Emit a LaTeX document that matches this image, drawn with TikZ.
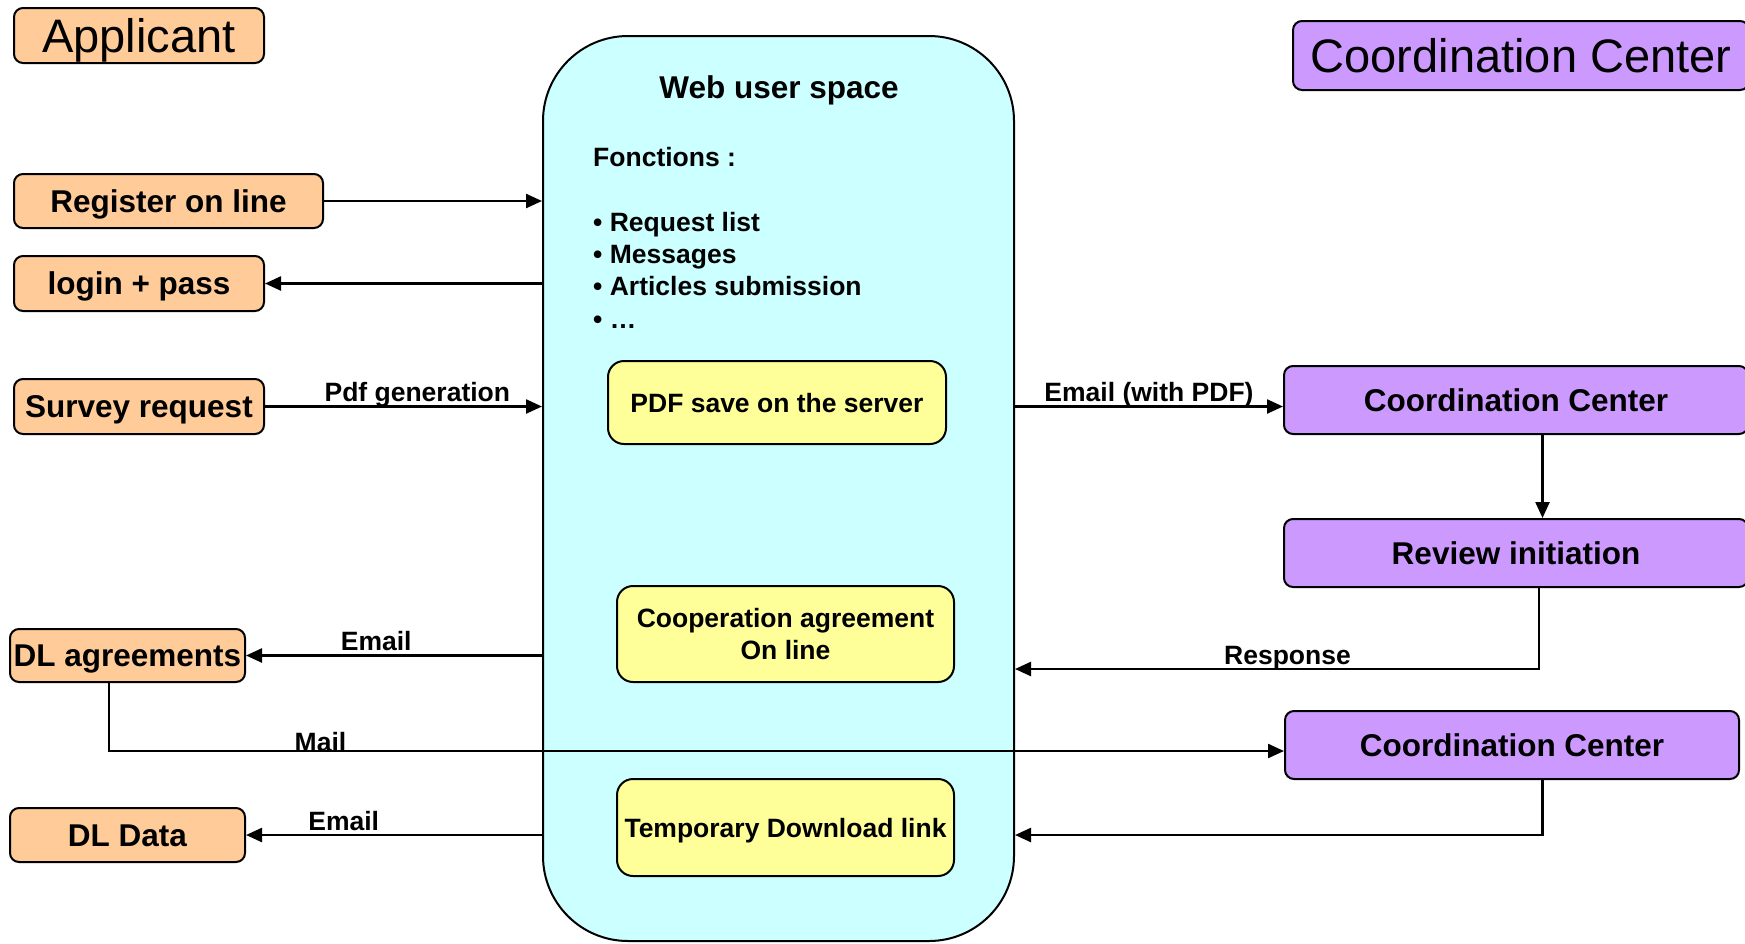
\documentclass[tikz,border=0pt]{standalone}
\usepackage{fontspec}
\setmainfont{Liberation Sans}
\usetikzlibrary{shapes,arrows.meta,positioning}
\definecolor{peach}{RGB}{255,204,153}
\definecolor{lilac}{RGB}{204,153,255}
\definecolor{cyanbg}{RGB}{204,255,255}
\definecolor{lemon}{RGB}{255,255,153}
\def\CC{Coordination Center}

\begin{document}
\begin{tikzpicture}[x=1pt,y=-1pt,% one unit = one pixel, y pointing down
		every node/.style={
			align=center,	% so that "\\" breaks lines
			inner sep=0pt
		},
		box/.style={rectangle,rounded corners=9pt,draw=black,line width=2pt,font=\fontsize{31.5}{36}\selectfont\bfseries,
			text height=22.5pt,text depth=0pt},	% centre on the capitals
		appl/.style={box,fill=peach},
		coord/.style={box,fill=lilac,minimum height=68pt},
		srvbox/.style={box,rounded corners=16pt,fill=lemon,font=\fontsize{26.5}{32}\selectfont\bfseries,text height=19pt},
		head/.style={font=\fontsize{47}{52}\selectfont,text height=33.7pt},
		lbl/.style={font=\fontsize{26.5}{32}\selectfont\bfseries,anchor=base,yshift=5pt},
		every edge/.style={draw,line width=2.4pt},
		>={Triangle[length=16pt,width=14pt]}
	]
	\useasboundingbox (0,0) rectangle (1745,943);
	% applicant side
	\node[appl,head,minimum width=250pt,minimum height=55pt](App) at (139,35.5){Applicant};
	\node[appl,minimum width=309pt,minimum height=54pt](Reg) at (168.5,201){Register on line};
	\node[appl,minimum width=250pt,minimum height=55pt](Log) at (139,283.5){login + pass};
	\node[appl,minimum width=250pt,minimum height=55pt](Sur) at (139,406.5){Survey request};
	\node[appl,minimum width=235pt,minimum height=53pt](DLa) at (127.5,655.5){DL agreements};
	\node[appl,minimum width=235pt,minimum height=54pt](DLd) at (127.5,835){DL Data};
	% web user space
	\node[rectangle,rounded corners=85pt,draw=black,line width=2pt,fill=cyanbg,minimum width=471pt,minimum height=905pt](Web) at (778.5,488.5){};
	\node[font=\fontsize{31.5}{36}\selectfont\bfseries,text height=22.5pt,text depth=0pt](Ttl) at (779,87){Web user space};
	\node[align=left,anchor=base west,font=\fontsize{26.5}{32.3}\selectfont\bfseries](Fn) at (593,328){Fonctions :\\[32.3pt]• Request list\\• Messages\\• Articles submission\\• …};
	\node[srvbox,minimum width=338pt,minimum height=83pt](Pdf) at (777,402.5){PDF save on the server};
	\node[srvbox,minimum width=337pt,minimum height=96pt,text height=51pt](Coop) at (785.5,634){Cooperation agreement\\On line};
	\node[srvbox,minimum width=337pt,minimum height=97pt](Tmp) at (785.5,827.5){Temporary Download link};
	% coordination center side
	\node[coord,head,minimum width=456pt,minimum height=69pt](CC1) at (1521,55.5){\CC};
	\node[coord,minimum width=464pt](CC2) at (1516,400){\CC};
	\node[coord,minimum width=464pt](Rev)[below=83pt of CC2]{Review initiation};
	\node[coord,minimum width=454pt](CC3) at (1512,745){\CC};
	\path[->]
	(Reg)edge (Reg -| Web.west)
	(Log -| Web.west)edge (Log)
	(Sur)edge node[lbl,pos=.55]{Pdf generation} (Sur -| Web.west)
	(Sur -| Web.east)edge node[lbl]{Email (with PDF)} (Sur -| CC2.west)
	([xshift=26.5pt]CC2.south)edge ([xshift=26.5pt]Rev.north)
	(Web.west |- DLa)edge node[lbl,pos=.56]{Email} (DLa)
	(Web.west |- DLd)edge node[lbl,pos=.67]{Email} (DLd)
	;
	\draw[->,line width=2.4pt] ([xshift=23pt]Rev.south) |- node[lbl,pos=.74]{Response} (Web.east |- 0,669);
	\draw[->,line width=2.4pt] ([xshift=-18.5pt]DLa.south) |- node[lbl,pos=.59,yshift=-5pt]{Mail} ([yshift=-6pt]CC3.west);
	\draw[->,line width=2.4pt] ([xshift=30.5pt]CC3.south) |- (Web.east |- DLd);
\end{tikzpicture}
\end{document}
